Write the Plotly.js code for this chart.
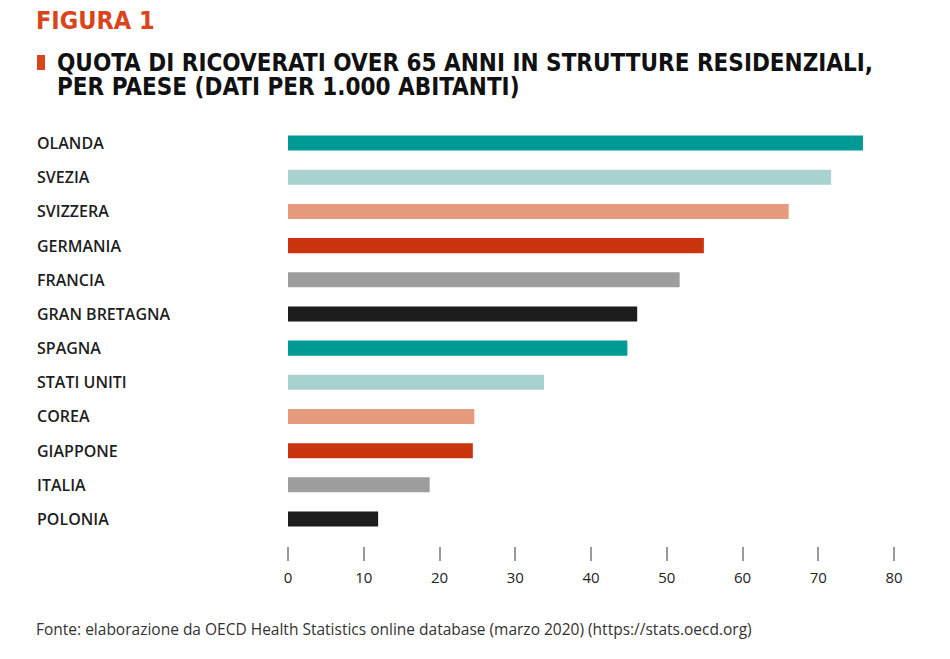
<!DOCTYPE html>
<html>
<head>
<meta charset="utf-8">
<script src="https://cdn.plot.ly/plotly-3.0.1.min.js"></script>
<style>html,body{margin:0;padding:0;background:#fff;}#chart{width:950px;height:659px;}</style>
</head>
<body>
<div id="chart"></div>
<script>
const countries = ["OLANDA","SVEZIA","SVIZZERA","GERMANIA","FRANCIA","GRAN BRETAGNA","SPAGNA","STATI UNITI","COREA","GIAPPONE","ITALIA","POLONIA"];
const values = [75.9, 71.7, 66.1, 54.9, 51.7, 46.1, 44.8, 33.8, 24.6, 24.4, 18.7, 11.9];
const barColors = ["#009a96","#a8d1d0","#e59b7c","#c9340f","#9d9d9d","#1d1d1d","#009a96","#a8d1d0","#e59b7c","#c9340f","#9d9d9d","#1d1d1d"];
const tickVals = [0,10,20,30,40,50,60,70,80];
const titleTop = "FIGURA 1";
const titleLines = ["QUOTA DI RICOVERATI OVER 65 ANNI IN STRUTTURE RESIDENZIALI,", "PER PAESE (DATI PER 1.000 ABITANTI)"];
const source = "Fonte: elaborazione da OECD Health Statistics online database (marzo 2020) (https://stats.oecd.org)";

const W = 950, H = 659;
const m = {l: 288, r: 56, t: 126, b: 113};
const pw = W - m.l - m.r, ph = H - m.t - m.b;
const px = x => (x - m.l) / pw;
const py = y => (H - m.b - y) / ph;

const labelFont = {family: "Open Sans, sans-serif", size: 16, color: "#1e1e1e", weight: 600};

const annotations = countries.map(c => ({
  x: px(35), xref: "paper", y: c, yref: "y",
  text: c, showarrow: false, xanchor: "left", yanchor: "middle",
  font: labelFont
}));
annotations.push({x: px(34), xref: "paper", y: py(20), yref: "paper", text: "<b>" + titleTop + "</b>",
  showarrow: false, xanchor: "left", yanchor: "middle",
  font: {family: "DejaVu Sans Condensed, sans-serif", size: 25, color: "#d9441c"}});
const titleY = [62.5, 87];
titleLines.forEach((t, i) => annotations.push({x: px(55), xref: "paper", y: py(titleY[i]), yref: "paper",
  text: "<b>" + t + "</b>", showarrow: false, xanchor: "left", yanchor: "middle", align: "left",
  font: {family: "DejaVu Sans Condensed, sans-serif", size: 24, color: "#111"}}));
annotations.push({x: px(34), xref: "paper", y: py(629), yref: "paper", text: source,
  showarrow: false, xanchor: "left", yanchor: "middle",
  font: {family: "Open Sans, sans-serif", size: 15.5, color: "#333"}});

const data = [{
  type: "bar", orientation: "h",
  x: values, y: countries,
  marker: {color: barColors},
  width: 0.44,
  hoverinfo: "x+y"
}];

const layout = {
  width: W, height: H,
  margin: m,
  paper_bgcolor: "#fff", plot_bgcolor: "#fff",
  showlegend: false,
  xaxis: {
    range: [0, 80], tickvals: tickVals, ticks: "outside", ticklen: 14, tickwidth: 2,
    tickcolor: "#9a9a9a", showgrid: false, zeroline: false, showline: false,
    tickfont: {family: "Open Sans, sans-serif", size: 15, color: "#222"}, ticklabelstandoff: 4
  },
  yaxis: {
    type: "category", range: [11.79, -0.5], showticklabels: false, showgrid: false,
    zeroline: false, showline: false, ticks: ""
  },
  shapes: [{type: "rect", xref: "paper", yref: "paper", x0: px(37), x1: px(45), y0: py(70), y1: py(55),
    fillcolor: "#d9441c", line: {width: 0}}],
  annotations: annotations
};

Plotly.newPlot("chart", data, layout, {displayModeBar: false});
</script>
</body>
</html>
